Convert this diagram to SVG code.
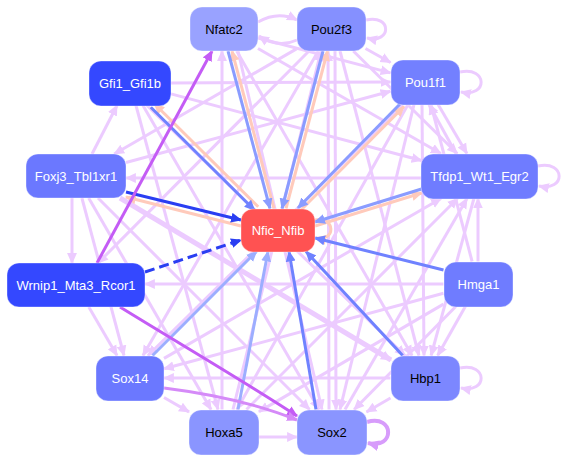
<svg xmlns="http://www.w3.org/2000/svg" width="569" height="462" viewBox="0 0 569 462">
<style>
.lp{stroke:#eccbff;stroke-width:3;fill:none;marker-end:url(#mlp)}
.lpt{stroke:#eccbff;stroke-width:5;fill:none;marker-end:url(#mlp)}
.pe{stroke:#ffcabb;stroke-width:3;fill:none;marker-end:url(#mpe)}
.bl{stroke:#8a9cff;stroke-width:3;fill:none;marker-end:url(#mbl)}
.bm{stroke:#6f82ff;stroke-width:3;fill:none;marker-end:url(#mbm)}
.bll{stroke:#9caeff;stroke-width:3;fill:none;marker-end:url(#mbll)}
.dk{stroke:#2a3ef2;stroke-width:3;fill:none;marker-end:url(#mdk)}
.pu{stroke:#c45cf5;stroke-width:3;fill:none;marker-end:url(#mpu)}
.pl{stroke:#d58af8;stroke-width:3;fill:none;marker-end:url(#mpl)}
.node rect{rx:12;ry:12;stroke:#ffffff;stroke-opacity:0.35;stroke-width:1}
.node text{font-family:"Liberation Sans",Arial,sans-serif;font-size:13px;text-anchor:middle;dominant-baseline:central}
.w{fill:#ffffff}
.k{fill:#000000}
</style>
<defs>
<marker id="mlp" viewBox="0 0 10 10" refX="9" refY="5" markerWidth="11" markerHeight="11" markerUnits="userSpaceOnUse" orient="auto"><path d="M0,0.5 L10,5 L0,9.5z" fill="#eccbff"/></marker>
<marker id="mpe" viewBox="0 0 10 10" refX="9" refY="5" markerWidth="11" markerHeight="11" markerUnits="userSpaceOnUse" orient="auto"><path d="M0,0.5 L10,5 L0,9.5z" fill="#ffcabb"/></marker>
<marker id="mbl" viewBox="0 0 10 10" refX="9" refY="5" markerWidth="11" markerHeight="11" markerUnits="userSpaceOnUse" orient="auto"><path d="M0,0.5 L10,5 L0,9.5z" fill="#8a9cff"/></marker>
<marker id="mbm" viewBox="0 0 10 10" refX="9" refY="5" markerWidth="11" markerHeight="11" markerUnits="userSpaceOnUse" orient="auto"><path d="M0,0.5 L10,5 L0,9.5z" fill="#6f82ff"/></marker>
<marker id="mbll" viewBox="0 0 10 10" refX="9" refY="5" markerWidth="11" markerHeight="11" markerUnits="userSpaceOnUse" orient="auto"><path d="M0,0.5 L10,5 L0,9.5z" fill="#9caeff"/></marker>
<marker id="mdk" viewBox="0 0 10 10" refX="9" refY="5" markerWidth="11" markerHeight="11" markerUnits="userSpaceOnUse" orient="auto"><path d="M0,0.5 L10,5 L0,9.5z" fill="#2a3ef2"/></marker>
<marker id="mpu" viewBox="0 0 10 10" refX="9" refY="5" markerWidth="11" markerHeight="11" markerUnits="userSpaceOnUse" orient="auto"><path d="M0,0.5 L10,5 L0,9.5z" fill="#c45cf5"/></marker>
<marker id="mpl" viewBox="0 0 10 10" refX="9" refY="5" markerWidth="11" markerHeight="11" markerUnits="userSpaceOnUse" orient="auto"><path d="M0,0.5 L10,5 L0,9.5z" fill="#d58af8"/></marker>
<marker id="mlo" viewBox="0 0 10 10" refX="9" refY="5" markerWidth="12" markerHeight="12" markerUnits="userSpaceOnUse" orient="auto"><path d="M0,0.5 L10,5 L0,9.5z" fill="#d79cfb"/></marker>
</defs>
<rect width="569" height="462" fill="#ffffff"/>
<g id="connectors">
<path class="lp" d="M258,22 C272,14 285,14 297,20"/>
<path class="lp" d="M297,40 C284,46 271,44 259,36"/>
<path class="lp" d="M366,20 C392,14 392,44 367,38"/>
<path class="lp" d="M460,72 C488,66 488,98 461,92"/>
<path class="lp" d="M538,166 C566,160 566,192 539,186"/>
<path class="lp" d="M460,368 C488,362 488,394 461,388"/>
<line class="lp" x1="365.5" y1="48.5" x2="390.5" y2="62.5"/>
<line class="lp" x1="258" y1="38" x2="390.5" y2="72.9"/>
<line class="lp" x1="258" y1="48.5" x2="440.8" y2="153.5"/>
<line class="lp" x1="238" y1="51" x2="322" y2="409.5"/>
<line class="lp" x1="236.7" y1="51" x2="412" y2="355.5"/>
<line class="lp" x1="353.3" y1="51" x2="457.2" y2="153.5"/>
<line class="lp" x1="296.5" y1="48.9" x2="114.2" y2="154"/>
<line class="lp" x1="318.3" y1="51" x2="143" y2="355.5"/>
<line class="lp" x1="335" y1="51" x2="336" y2="409.5"/>
<line class="lp" x1="340" y1="51" x2="418.9" y2="355.5"/>
<line class="lp" x1="309" y1="51" x2="98" y2="263"/>
<line class="lp" x1="438.1" y1="104.5" x2="466.9" y2="153.5"/>
<line class="lp" x1="456" y1="153.5" x2="429" y2="104.5"/>
<line class="lp" x1="126" y1="162.5" x2="390.5" y2="91.3"/>
<line class="lp" x1="171" y1="83" x2="390.5" y2="82"/>
<line class="lp" x1="402.6" y1="104.5" x2="148" y2="355.5"/>
<line class="lp" x1="414" y1="104.5" x2="340" y2="409.5"/>
<line class="lp" x1="422" y1="104.5" x2="424" y2="355.5"/>
<line class="lp" x1="408" y1="104.5" x2="236.9" y2="409.5"/>
<line class="lp" x1="92" y1="154" x2="117" y2="105.5"/>
<line class="lp" x1="171" y1="93.9" x2="421.5" y2="160.5"/>
<line class="lp" x1="143" y1="105.5" x2="319" y2="409.5"/>
<line class="lp" x1="147" y1="105.5" x2="405" y2="355.5"/>
<line class="lp" x1="136" y1="105.5" x2="218" y2="409.5"/>
<line class="lp" x1="72" y1="198" x2="72" y2="263"/>
<line class="lp" x1="421.5" y1="178" x2="126" y2="178"/>
<line class="lp" x1="81.9" y1="198" x2="124" y2="355.5"/>
<line class="lp" x1="98" y1="198" x2="309.5" y2="409.5"/>
<line class="lp" x1="88.7" y1="198" x2="211" y2="409.5"/>
<line class="lpt" x1="120" y1="198" x2="391" y2="360"/>
<line class="lp" x1="88.8" y1="307" x2="117" y2="355.5"/>
<line class="lp" x1="443.5" y1="284" x2="145" y2="284"/>
<line class="lp" x1="478" y1="261.5" x2="478" y2="198.5"/>
<line class="lp" x1="472.1" y1="261.5" x2="430.9" y2="104.5"/>
<line class="lp" x1="465.3" y1="306.5" x2="437.7" y2="355.5"/>
<line class="lp" x1="455.8" y1="306.5" x2="354.2" y2="409.5"/>
<line class="lp" x1="443.5" y1="293.3" x2="164" y2="368.8"/>
<line class="lp" x1="443.5" y1="304.1" x2="259" y2="411.6"/>
<line class="lp" x1="390.5" y1="398" x2="366.5" y2="412"/>
<line class="lp" x1="390.5" y1="378" x2="164" y2="378"/>
<line class="lp" x1="164" y1="397.5" x2="189" y2="411.9"/>
<line class="lp" x1="259" y1="437" x2="297" y2="437"/>
<line class="lp" x1="345" y1="409.5" x2="467" y2="198.5"/>
<line class="lp" x1="246.5" y1="409.5" x2="457.5" y2="198.5"/>
<line class="lp" x1="164" y1="358.4" x2="441" y2="198.5"/>
<line class="lp" x1="473.9" y1="198.5" x2="431.1" y2="355.5"/>
<line class="lp" x1="233" y1="409.5" x2="321" y2="51"/>
<line class="lp" x1="222" y1="409.5" x2="222" y2="51"/>
<line class="lp" x1="329" y1="409.5" x2="328" y2="51"/>
<line class="pe" x1="274" y1="208.5" x2="232" y2="51"/>
<line class="pe" x1="286" y1="208.5" x2="327.5" y2="51"/>
<line class="pe" x1="301" y1="210" x2="404" y2="106.5"/>
<line class="pe" x1="258.2" y1="206.7" x2="154.4" y2="103.7"/>
<line class="pe" x1="315" y1="226" x2="421.5" y2="193"/>
<line class="pe" x1="241" y1="226" x2="126" y2="197"/>
<path class="pe" d="M315,220 C336,216 336,242 316,238"/>
<line class="bm" x1="150.8" y1="107.3" x2="254.6" y2="210.3"/>
<line class="dk" x1="126" y1="192" x2="241" y2="220"/>
<line class="dk" x1="145" y1="272" x2="241" y2="240" stroke-dasharray="10,5"/>
<line class="bm" x1="443.5" y1="270" x2="315" y2="238"/>
<line class="bm" x1="402.7" y1="355.5" x2="306" y2="251.5"/>
<line class="bm" x1="316" y1="409.5" x2="289" y2="251.5"/>
<line class="bll" x1="238" y1="409.5" x2="268" y2="251.5"/>
<line class="bll" x1="152.5" y1="355.5" x2="256.5" y2="251.5"/>
<line class="bl" x1="228" y1="51" x2="270" y2="208.5"/>
<line class="bl" x1="323" y1="51" x2="282" y2="208.5"/>
<line class="bl" x1="400" y1="104" x2="298" y2="208"/>
<line class="bl" x1="421.5" y1="189" x2="315" y2="222"/>
<line class="pu" x1="97" y1="263" x2="212" y2="51"/>
<path class="pu" d="M120,307 C190,350 250,385 297,416"/>
<path class="pl" d="M164,388 C220,395 260,405 297,420"/>
<path d="M367,422 C395,414 395,450 368,443" stroke="#d79cfb" stroke-width="4" fill="none" marker-end="url(#mlo)"/>
</g>
<g id="Nfatc2" class="node"><rect x="190" y="7" width="68" height="44" fill="#99a2ff"/><text x="224" y="29" class="k">Nfatc2</text></g>
<g id="Pou2f3" class="node"><rect x="297" y="7" width="69" height="44" fill="#8590ff"/><text x="331.5" y="29" class="k">Pou2f3</text></g>
<g id="Pou1f1" class="node"><rect x="391" y="60" width="69" height="45" fill="#7380ff"/><text x="425.5" y="82" class="w">Pou1f1</text></g>
<g id="Gfi1_Gfi1b" class="node"><rect x="89" y="61" width="82" height="45" fill="#3448ff"/><text x="130" y="83" class="w">Gfi1_Gfi1b</text></g>
<g id="Foxj3_Tbl1xr1" class="node"><rect x="26" y="154" width="100" height="44" fill="#6b78ff"/><text x="76" y="176" class="w">Foxj3_Tbl1xr1</text></g>
<g id="Wrnip1_Mta3_Rcor1" class="node"><rect x="7" y="263" width="138" height="44" fill="#3448ff"/><text x="76" y="285" class="w">Wrnip1_Mta3_Rcor1</text></g>
<g id="Nfic_Nfib" class="node"><rect x="241" y="209" width="74" height="43" fill="#ff5252"/><text x="278" y="230" class="w">Nfic_Nfib</text></g>
<g id="Tfdp1_Wt1_Egr2" class="node"><rect x="421" y="154" width="117" height="45" fill="#6f7cff"/><text x="479.5" y="176" class="w">Tfdp1_Wt1_Egr2</text></g>
<g id="Hmga1" class="node"><rect x="444" y="262" width="69" height="45" fill="#6f7cff"/><text x="478.5" y="284" class="w">Hmga1</text></g>
<g id="Sox14" class="node"><rect x="96" y="356" width="68" height="45" fill="#6b78ff"/><text x="130" y="378" class="w">Sox14</text></g>
<g id="Hoxa5" class="node"><rect x="189" y="410" width="70" height="45" fill="#8a95ff"/><text x="224" y="432" class="k">Hoxa5</text></g>
<g id="Hbp1" class="node"><rect x="391" y="356" width="69" height="45" fill="#7c87ff"/><text x="425.5" y="378" class="k">Hbp1</text></g>
<g id="Sox2" class="node"><rect x="297" y="410" width="70" height="45" fill="#8a95ff"/><text x="332" y="432" class="k">Sox2</text></g>
</svg>
